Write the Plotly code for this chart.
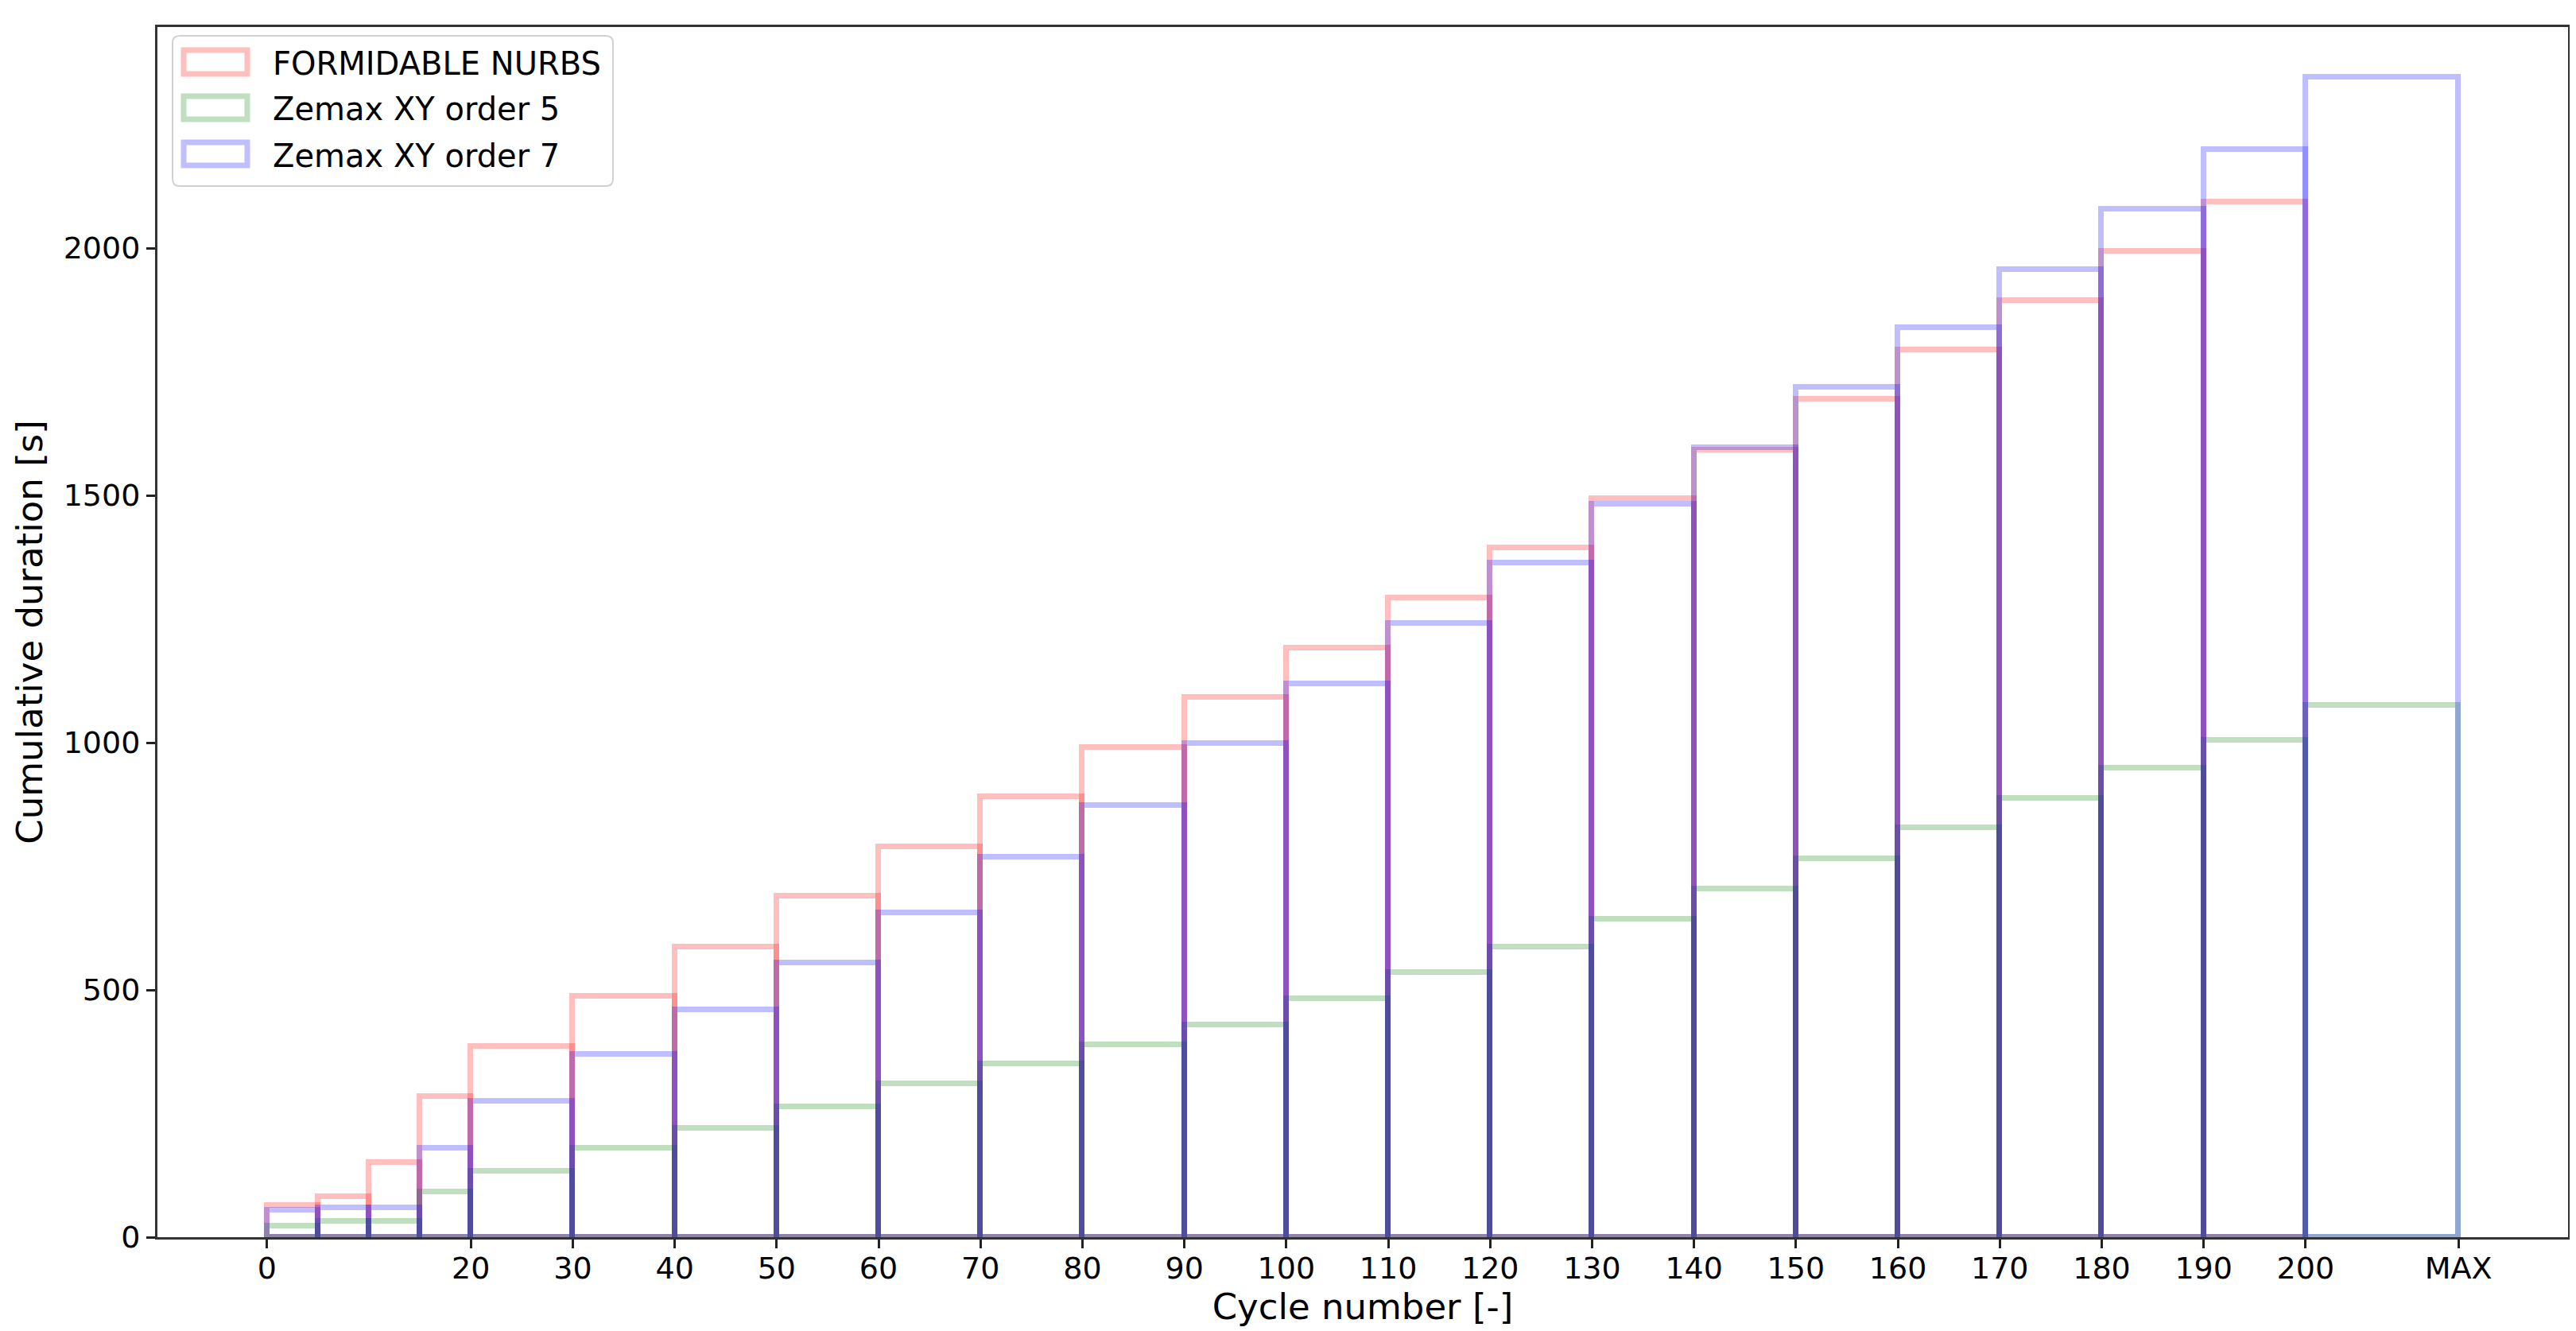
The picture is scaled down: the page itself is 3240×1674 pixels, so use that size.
import plotly.graph_objects as go

# ---------------- data ----------------
bin_edges = [0, 5, 10, 15, 20, 30, 40, 50, 60, 70, 80, 90, 100, 110, 120,
             130, 140, 150, 160, 170, 180, 190, 200, 215]

series_names = ["FORMIDABLE NURBS", "Zemax XY order 5", "Zemax XY order 7"]

nurbs = [64, 82, 151, 285, 386, 487, 587, 689, 789, 891, 991, 1092, 1191,
         1293, 1394, 1494, 1592, 1694, 1794, 1894, 1993, 2093]
xy_order5 = [23, 32, 32, 92, 133, 180, 220, 263, 310, 350, 389, 430, 482,
             535, 587, 643, 705, 765, 828, 887, 948, 1005, 1076]
xy_order7 = [55, 59, 59, 180, 275, 369, 460, 555, 656, 768, 873, 998, 1119,
             1241, 1363, 1482, 1597, 1718, 1840, 1957, 2079, 2199, 2345]

x_tick_vals = [0, 20, 30, 40, 50, 60, 70, 80, 90, 100, 110, 120, 130, 140,
               150, 160, 170, 180, 190, 200, 215]
x_tick_text = ["0", "20", "30", "40", "50", "60", "70", "80", "90", "100",
               "110", "120", "130", "140", "150", "160", "170", "180", "190",
               "200", "MAX"]
y_tick_vals = [0, 500, 1000, 1500, 2000]

x_title = "Cycle number [-]"
y_title = "Cumulative duration [s]"

# ---------------- styling ----------------
W, H = 3240, 1674
ML, MR, MT, MB = 190, 18, 26, 126
PW, PH = W - ML - MR, H - MT - MB
FONT = "DejaVu Sans"
line_colors = ["rgba(255,0,0,0.25)", "rgba(0,128,0,0.25)", "rgba(0,0,255,0.25)"]
LW = 7

centers = [(a + b) / 2 for a, b in zip(bin_edges[:-1], bin_edges[1:])]
widths = [b - a for a, b in zip(bin_edges[:-1], bin_edges[1:])]

fig = go.Figure()
for name, vals, col in zip(series_names, [nurbs, xy_order5, xy_order7], line_colors):
    n = len(vals)
    fig.add_trace(go.Bar(
        x=centers[:n], y=vals, width=widths[:n], name=name,
        marker=dict(color="rgba(0,0,0,0)", line=dict(color=col, width=LW)),
        showlegend=False, hoverinfo="x+y+name",
    ))


def px(xf):
    return (xf - ML) / PW


def py(yf):
    return (MT + PH - yf) / PH


shapes = []
annotations = []
# legend frame (rounded)
x0, x1 = px(209), px(763)
y0, y1 = py(226), py(37)
rx, ry = 9 / PW, 9 / PH
path = (f"M{x0+rx},{y1} L{x1-rx},{y1} Q{x1},{y1} {x1},{y1-ry} "
        f"L{x1},{y0+ry} Q{x1},{y0} {x1-rx},{y0} L{x0+rx},{y0} "
        f"Q{x0},{y0} {x0},{y0+ry} L{x0},{y1-ry} Q{x0},{y1} {x0+rx},{y1} Z")
shapes.append(dict(type="path", xref="paper", yref="paper", path=path,
                   line=dict(color="rgba(204,204,204,0.9)", width=2),
                   fillcolor="rgba(255,255,255,0.8)", layer="above"))
rows = [(55, 85), (113, 142), (171, 200)]
for (ya, yb), name, col in zip(rows, series_names, line_colors):
    shapes.append(dict(type="rect", xref="paper", yref="paper",
                       x0=px(223), x1=px(303), y0=py(yb), y1=py(ya),
                       line=dict(color=col, width=LW), fillcolor="rgba(0,0,0,0)",
                       layer="above"))
    annotations.append(dict(xref="paper", yref="paper", x=px(333),
                            y=py((ya + yb) / 2 + 2), text=name, showarrow=False,
                            xanchor="left", yanchor="middle",
                            font=dict(family=FONT, size=40, color="#000")))

fig.update_layout(
    width=W, height=H,
    margin=dict(l=ML, r=MR, t=MT, b=MB),
    paper_bgcolor="white", plot_bgcolor="white",
    barmode="overlay", bargap=0,
    font=dict(family=FONT, size=38, color="#000"),
    shapes=shapes, annotations=annotations,
    xaxis=dict(
        range=[-10.75, 225.75], tickmode="array", tickvals=x_tick_vals,
        ticktext=x_tick_text, ticks="outside", ticklen=11, tickwidth=2.5,
        tickcolor="#222", showline=True, linecolor="#333", linewidth=3,
        mirror=True, showgrid=False, zeroline=False, ticklabelstandoff=-8,
        tickfont=dict(family=FONT, size=38, color="#000"),
        title=dict(text=x_title, font=dict(family=FONT, size=45, color="#000"),
                   standoff=2),
    ),
    yaxis=dict(
        range=[0, 2447], tickmode="array", tickvals=y_tick_vals,
        ticks="outside", ticklen=11, tickwidth=2.5, tickcolor="#222",
        showline=True, linecolor="#333", linewidth=3, mirror=True,
        showgrid=False, zeroline=False,
        tickfont=dict(family=FONT, size=38, color="#000"),
        title=dict(text=y_title, font=dict(family=FONT, size=45, color="#000"),
                   standoff=12),
    ),
)

fig.write_html("out.html")
